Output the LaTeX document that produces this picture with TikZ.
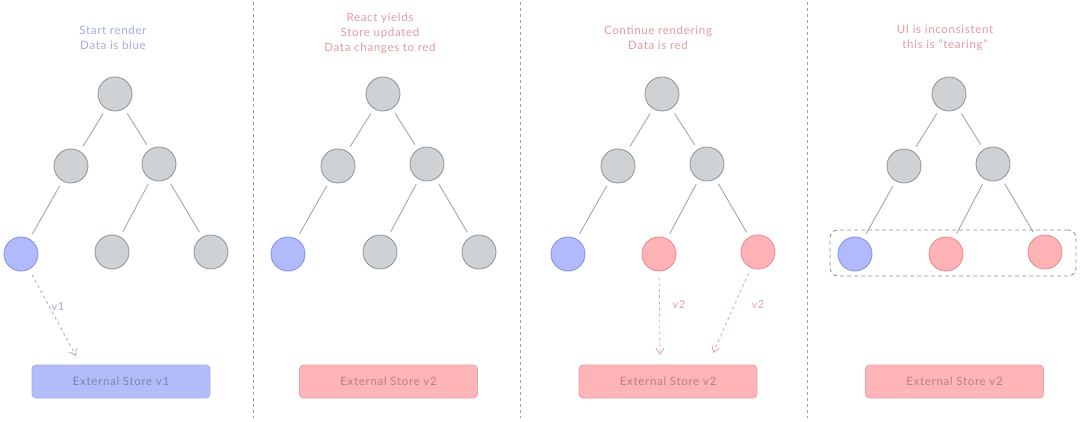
\documentclass[tikz,border=0pt]{standalone}
\usepackage{fontspec}
\setmainfont{Lato}[LetterSpace=6]
\usetikzlibrary{arrows.meta}
\definecolor{gfill}{HTML}{CED2D4}
\definecolor{gdraw}{HTML}{8C9196}
\definecolor{bfill}{HTML}{B1BBFB}
\definecolor{bdraw}{HTML}{7F8FE8}
\definecolor{rfill}{HTML}{FFB3B6}
\definecolor{rdraw}{HTML}{E6868E}
\definecolor{edgec}{HTML}{A4A6A8}
\definecolor{titleb}{HTML}{A3A9E6}
\definecolor{titler}{HTML}{E49AA2}
\definecolor{sbfill}{HTML}{B3BCF8}
\definecolor{sbdraw}{HTML}{A3ADF0}
\definecolor{sbtext}{HTML}{7C83B4}
\definecolor{srfill}{HTML}{FFB4B8}
\definecolor{srdraw}{HTML}{F0A0A6}
\definecolor{srtext}{HTML}{B87F85}
\definecolor{arrb}{HTML}{A8AAC8}
\definecolor{arrr}{HTML}{D8A8AC}
\definecolor{divc}{HTML}{A0A0A0}
\begin{document}
\begin{tikzpicture}[x=1pt,y=-1pt,
  cnode/.style={circle,minimum size=34pt,inner sep=0pt,line width=0.8pt},
  gnode/.style={cnode,fill=gfill,draw=gdraw},
  bnode/.style={cnode,fill=bfill,draw=bdraw},
  rnode/.style={cnode,fill=rfill,draw=rdraw},
  edge/.style={draw=edgec,line width=0.9pt,shorten >=5.5pt,shorten <=5.5pt},
  title/.style={align=center,font=\fontsize{11.5}{15}\selectfont},
  storebox/.style={rounded corners=4pt,minimum width=178pt,minimum height=33pt,line width=0.8pt,font=\fontsize{11.5}{12}\selectfont},
  sblue/.style={storebox,fill=sbfill,draw=sbdraw,text=sbtext},
  sred/.style={storebox,fill=srfill,draw=srdraw,text=srtext},
  arr/.style={dashed,dash pattern=on 3pt off 3pt,line width=0.8pt,shorten <=6pt,-{Straight Barb[length=6pt,width=8pt]}},
  lbl/.style={font=\fontsize{11}{12}\selectfont},
  divider/.style={draw=divc,line width=0.7pt,dash pattern=on 3pt off 3pt}
]
\fill[white] (0,0) rectangle (1080,422);
\useasboundingbox (0,0) rectangle (1080,422);

% dividers
\coordinate (d1a) at (253,2); \coordinate (d1b) at (253,418);
\coordinate (d2a) at (520,2); \coordinate (d2b) at (520,418);
\coordinate (d3a) at (807,2); \coordinate (d3b) at (807,418);
\draw[divider] (d1a) -- (d1b);
\draw[divider] (d2a) -- (d2b);
\draw[divider] (d3a) -- (d3b);

% ---------- Panel 1 ----------
\node[title,text=titleb] (t1) at (113,38) {Start render\\Data is blue};
\node[gnode] (a0) at (115,94) {};
\node[gnode] (a1) at (71,166) {};
\node[gnode] (a2) at (159,164) {};
\node[bnode] (a3) at (21,254) {};
\node[gnode] (a4) at (112,252) {};
\node[gnode] (a5) at (211,252) {};
\draw[edge] (a0) -- (a1);
\draw[edge] (a0) -- (a2);
\draw[edge] (a1) -- (a3);
\draw[edge] (a2) -- (a4);
\draw[edge] (a2) -- (a5);
\node[sblue] (s1) at (121,381.5) {External Store v1};
\coordinate (a3t) at (76,356);
\draw[arr,draw=arrb] (a3) -- (a3t);
\node[lbl,text=arrb] (v1) at (58,307) {v1};

% ---------- Panel 2 ----------
\node[title,text=titler] (t2) at (380,33) {React yields\\Store updated\\Data changes to red};
\node[gnode] (b0) at (383,94) {};
\node[gnode] (b1) at (338,166) {};
\node[gnode] (b2) at (427,164) {};
\node[bnode] (b3) at (288,254) {};
\node[gnode] (b4) at (380,252) {};
\node[gnode] (b5) at (479,252) {};
\draw[edge] (b0) -- (b1);
\draw[edge] (b0) -- (b2);
\draw[edge] (b1) -- (b3);
\draw[edge] (b2) -- (b4);
\draw[edge] (b2) -- (b5);
\node[sred] (s2) at (388.5,381.5) {External Store v2};

% ---------- Panel 3 ----------
\node[title,text=titler] (t3) at (658,38) {Continue rendering\\Data is red};
\node[gnode] (c0) at (662,94) {};
\node[gnode] (c1) at (618,166) {};
\node[gnode] (c2) at (707,164) {};
\node[bnode] (c3) at (568,254) {};
\node[rnode] (c4) at (659,254) {};
\node[rnode] (c5) at (758,252) {};
\draw[edge] (c0) -- (c1);
\draw[edge] (c0) -- (c2);
\draw[edge] (c1) -- (c3);
\draw[edge] (c2) -- (c4);
\draw[edge] (c2) -- (c5);
\node[sred] (s3) at (668,381.5) {External Store v2};
\coordinate (c4t) at (660,355);
\coordinate (c5t) at (713,353);
\draw[arr,draw=arrr] (c4) -- (c4t);
\draw[arr,draw=arrr] (c5) -- (c5t);
\node[lbl,text=arrr] (v2a) at (679,305) {v2};
\node[lbl,text=arrr] (v2b) at (758,305) {v2};

% ---------- Panel 4 ----------
\node[title,text=titler] (t4) at (945,38) {UI is inconsistent\\this is "tearing"};
\node[gnode] (e0) at (949,94) {};
\node[gnode] (e1) at (904,166) {};
\node[gnode] (e2) at (993,164) {};
\node[bnode] (e3) at (855,254) {};
\node[rnode] (e4) at (946,254) {};
\node[rnode] (e5) at (1045,252) {};
\draw[edge] (e0) -- (e1);
\draw[edge] (e0) -- (e2);
\draw[edge] (e1) -- (e3);
\draw[edge] (e2) -- (e4);
\draw[edge] (e2) -- (e5);
\node[draw=gdraw,dashed,dash pattern=on 4pt off 3pt,rounded corners=8pt,line width=0.8pt,minimum width=246pt,minimum height=46pt] (tear) at (953,253) {};
\node[sred] (s4) at (954.5,381.5) {External Store v2};
\end{tikzpicture}
\end{document}
